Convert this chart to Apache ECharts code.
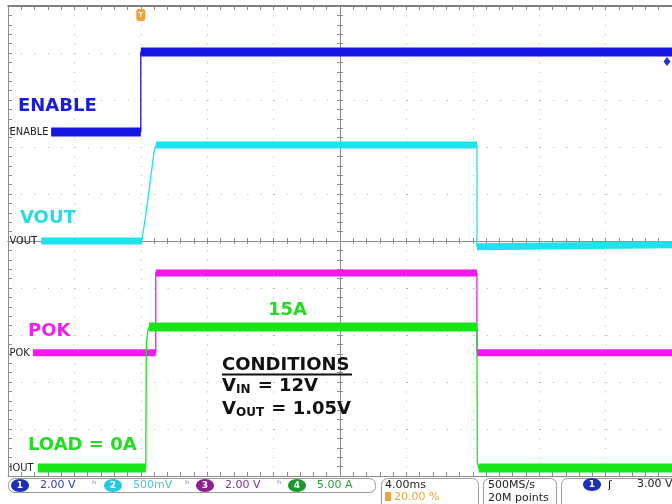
<!DOCTYPE html>
<html><head><meta charset="utf-8">
<script src="https://cdn.jsdelivr.net/npm/echarts@6/dist/echarts.min.js"></script>
<style>html,body{margin:0;padding:0;background:#fff}#c{width:672px;height:504px}</style>
</head><body><div id="c"></div>
<script>
// ---- time base (ms, trigger at t = 0), 4.00 ms/div, 10 divisions ----
const T_MIN = -8, T_MAX = 32, T_DIV = 4;

// ---- channel settings (units per division, ground position in divisions from centre) ----
const chNames  = ['ENABLE', 'VOUT', 'POK', 'IOUT'];
const chScale  = [2, 0.5, 2, 5];          // 2.00 V, 500 mV, 2.00 V, 5.00 A
const chGround = [2.32, 0, -2.38, -4.83];
const chColors = ['#1616e0', '#1ee2ee', '#f218f0', '#16e616'];
const chBand   = [9, 7, 7, 9];
const chTol    = [0.3, 0.05, 0.3, 0.3];

// ---- waveforms [time ms, value] ----
const enableData = [[-5.4, 0], [0.0, 0], [0.0, 3.4], [32, 3.4]];
const voutData   = [[-6.0, 0], [0.06, 0], [0.3, 0.28], [0.66, 0.76], [0.8, 0.95], [0.92, 1.02],
                    [20.25, 1.02], [20.25, -0.06], [32, -0.04]];
const pokData    = [[-6.5, 0], [0.9, 0], [0.9, 3.4], [20.25, 3.4], [20.25, 0], [32, 0]];
const ioutData   = [[-6.2, 0], [0.3, 0], [0.33, 13], [0.42, 14.6], [0.5, 15],
                    [20.25, 15], [20.27, 0.6], [20.35, 0], [32, 0]];
const chData = [enableData, voutData, pokData, ioutData];

// trigger
const trigLevel = 3.0;   // ch1 3.00 V
const trigTime = 0;

// ---- readouts ----
const chReadout = ['2.00 V', '500mV', '2.00 V', '5.00 A'];
const timeReadout = ['4.00ms', '20.00 %'];
const acqReadout = ['500MS/s', '20M points'];
const trigReadout = '3.00 V';

function bands(data, tol) {
  const out = [];
  for (let i = 0; i < data.length; i++) {
    out.push(data[i]);
    if (i < data.length - 1 && Math.abs(data[i + 1][1] - data[i][1]) > tol) {
      out.push([(data[i][0] + data[i + 1][0]) / 2, null]);
    }
  }
  return out;
}

const frame = { color: '#8c8c8c', width: 1 };
const half = (T_MAX - T_MIN) / 2;

const xAxis = [
  { type: 'value', min: T_MIN, max: T_MAX, interval: T_DIV, position: 'bottom',
    axisLine: { show: true, onZero: false, lineStyle: frame },
    axisTick: { show: true, inside: true, length: 4, lineStyle: frame },
    minorTick: { show: true, splitNumber: 5, length: 4, lineStyle: frame },
    axisLabel: { show: false },
    splitLine: { show: true, lineStyle: { color: '#b0b0b0', width: 1, type: [1, 8.4] } } },
  { type: 'value', min: T_MIN, max: T_MAX, interval: T_DIV, position: 'top',
    axisLine: { show: true, onZero: false, lineStyle: { color: '#555', width: 1.5 } },
    axisTick: { show: true, inside: true, length: 4, lineStyle: frame },
    minorTick: { show: true, splitNumber: 5, length: 4, lineStyle: frame },
    axisLabel: { show: false }, splitLine: { show: false } },
  { type: 'value', min: -half, max: half, interval: T_DIV, position: 'bottom',
    axisLine: { show: true, onZero: true, onZeroAxisIndex: 0, lineStyle: frame },
    axisTick: { show: true, inside: false, length: 3, lineStyle: frame },
    minorTick: { show: true, splitNumber: 5, length: 3, lineStyle: frame },
    axisLabel: { show: false }, splitLine: { show: false } },
  { type: 'value', min: -half, max: half, interval: T_DIV, position: 'bottom',
    axisLine: { show: true, onZero: true, onZeroAxisIndex: 0, lineStyle: frame },
    axisTick: { show: true, inside: true, length: 3, lineStyle: frame },
    minorTick: { show: true, splitNumber: 5, length: 3, lineStyle: frame },
    axisLabel: { show: false }, splitLine: { show: false } }
];

const yAxis = [
  { type: 'value', min: -5, max: 5, interval: 1, position: 'left',
    axisLine: { show: true, onZero: false, lineStyle: frame },
    axisTick: { show: true, inside: true, length: 4, lineStyle: frame },
    minorTick: { show: true, splitNumber: 5, length: 4, lineStyle: frame },
    axisLabel: { show: false },
    splitLine: { show: true, lineStyle: { color: '#b0b0b0', width: 1, type: [1, 12.3] } } },
  { type: 'value', min: -5, max: 5, interval: 1, position: 'left',
    axisLine: { show: true, onZero: true, onZeroAxisIndex: 2, lineStyle: frame },
    axisTick: { show: true, inside: false, length: 3, lineStyle: frame },
    minorTick: { show: true, splitNumber: 5, length: 3, lineStyle: frame },
    axisLabel: { show: false }, splitLine: { show: false } },
  { type: 'value', min: -5, max: 5, interval: 1, position: 'left',
    axisLine: { show: true, onZero: true, onZeroAxisIndex: 2, lineStyle: frame },
    axisTick: { show: true, inside: true, length: 3, lineStyle: frame },
    minorTick: { show: true, splitNumber: 5, length: 3, lineStyle: frame },
    axisLabel: { show: false }, splitLine: { show: false } }
];
chNames.forEach((n, i) => {
  yAxis.push({ type: 'value', show: false, axisLine: { onZero: false },
    min: (-5 - chGround[i]) * chScale[i], max: (5 - chGround[i]) * chScale[i] });
});

const series = [];
chNames.forEach((n, i) => {
  const mp = [{
    name: n, coord: [T_MIN, 0], symbol: 'circle', symbolSize: 1,
    itemStyle: { color: 'rgba(0,0,0,0)' },
    label: { show: true, position: 'right', distance: 1, formatter: n, color: '#222',
      fontSize: 11, fontFamily: '"Liberation Sans Narrow","DejaVu Sans Condensed",sans-serif' }
  }];
  if (i === 0) {
    mp.push({ name: 'T', coord: [trigTime, (4.81 - chGround[0]) * chScale[0]], symbol: 'roundRect',
      symbolSize: [9, 12], itemStyle: { color: '#f2a338' },
      label: { show: true, position: 'inside', formatter: 'T', color: '#fff', fontSize: 8, fontWeight: 'bold' } });
    mp.push({ name: 'lvl', coord: [T_MAX - 0.3, trigLevel], symbol: 'diamond',
      symbolSize: [7, 9], itemStyle: { color: '#2233d0' }, label: { show: false } });
  }
  series.push({
    type: 'line', name: n, xAxisIndex: 0, yAxisIndex: 3 + i, data: chData[i],
    symbol: 'none', silent: true, animation: false, z: 3,
    lineStyle: { color: chColors[i], width: 1.3 },
    markPoint: { data: mp, animation: false, silent: true }
  });
  series.push({
    type: 'line', name: n + ' band', xAxisIndex: 0, yAxisIndex: 3 + i, data: bands(chData[i], chTol[i]),
    symbol: 'none', silent: true, animation: false, connectNulls: false, z: 3,
    lineStyle: { color: chColors[i], width: chBand[i], cap: 'butt', join: 'miter' }
  });
});

const big = (txt, x, y, col) => ({ type: 'text', x: x, y: y, z: 20,
  style: { text: txt, fill: col, fontSize: 18, fontWeight: 'bold', fontFamily: '"DejaVu Sans"', verticalAlign: 'middle' } });
const small = (txt, x, y, col, extra) => Object.assign({ type: 'text', x: x, y: y, z: 20,
  style: { text: txt, fill: col, fontSize: 11, fontFamily: '"DejaVu Sans"', verticalAlign: 'middle' } }, extra || {});
const badge = (num, cx, cy, col) => ({ type: 'group', children: [
  { type: 'ellipse', shape: { cx: cx, cy: cy, rx: 9, ry: 6.5 }, style: { fill: col }, z: 20 },
  { type: 'text', x: cx, y: cy, z: 21, style: { text: num, fill: '#fff', fontSize: 9, fontWeight: 'bold',
    fontFamily: '"DejaVu Sans"', align: 'center', verticalAlign: 'middle' } }
] });
const box = (x, y, w, h) => ({ type: 'rect', z: 15, shape: { x: x, y: y, width: w, height: h, r: 6 },
  style: { fill: '#fff', stroke: '#9a9a9a', lineWidth: 1 } });

const badgeCol = ['#1c2fb5', '#27c9dc', '#8e1f8e', '#1a9a2a'];
const readCol = ['#2f3fa8', '#4ec3d2', '#85308c', '#2f9f40'];
const badgeX = [20, 113, 205, 297];

const graphic = [
  big('ENABLE', 18, 106, '#1a1ae0'),
  big('VOUT', 20, 218, '#28dbe6'),
  big('POK', 28, 331, '#ee22ee'),
  big('15A', 268, 310, '#22dd22'),
  big('LOAD = 0A', 28, 445, '#22dd22'),
  big('CONDITIONS', 222, 365, '#111'),
  { type: 'line', z: 20, shape: { x1: 222, y1: 374.5, x2: 352, y2: 374.5 }, style: { stroke: '#111', lineWidth: 2 } },
  { type: 'text', x: 222, y: 386, z: 20, style: { text: '{a|V}{b|IN}{a| = 12V}', verticalAlign: 'middle',
    rich: { a: { fontSize: 18, fontWeight: 'bold', fontFamily: '"DejaVu Sans"', fill: '#111' },
            b: { fontSize: 12, fontWeight: 'bold', fontFamily: '"DejaVu Sans"', fill: '#111', padding: [8, 1, 0, 0] } } } },
  { type: 'text', x: 222, y: 409, z: 20, style: { text: '{a|V}{b|OUT}{a| = 1.05V}', verticalAlign: 'middle',
    rich: { a: { fontSize: 18, fontWeight: 'bold', fontFamily: '"DejaVu Sans"', fill: '#111' },
            b: { fontSize: 12, fontWeight: 'bold', fontFamily: '"DejaVu Sans"', fill: '#111', padding: [8, 1, 0, 0] } } } },
  // status bar
  box(8.5, 478.5, 367, 14),
  box(381.5, 478.5, 97, 32),
  box(483.5, 478.5, 73, 32),
  box(561.5, 478.5, 120, 32)
];
chReadout.forEach((r, i) => {
  graphic.push(badge(String(i + 1), badgeX[i], 485.5, badgeCol[i]));
  graphic.push(small(r, badgeX[i] + 20, 485.5, readCol[i], {}));
  if (i < 3) graphic.push(small('ʰ', badgeX[i] + 72, 485, '#7f90b8', {}));
});
graphic.push(small(timeReadout[0], 385, 485.5, '#222'));
graphic.push({ type: 'rect', z: 20, shape: { x: 385, y: 492, width: 6, height: 9, r: 1 }, style: { fill: '#f2a338' } });
graphic.push(small(timeReadout[1], 394, 497.5, '#f2a338'));
graphic.push(small(acqReadout[0], 488, 485, '#222'));
graphic.push(small(acqReadout[1], 488, 498, '#222'));
graphic.push(badge('1', 592, 484.5, badgeCol[0]));
graphic.push(small('ʃ', 608, 485, '#111', {}));
graphic.push(small(trigReadout, 637, 484.5, '#222'));

const chart = echarts.init(document.getElementById('c'), null, { renderer: 'canvas' });
chart.setOption({
  backgroundColor: '#fff',
  animation: false,
  grid: { left: 8, top: 6, width: 666, height: 470, containLabel: false },
  xAxis: xAxis,
  yAxis: yAxis,
  series: series,
  graphic: graphic
});
</script>
</body></html>
